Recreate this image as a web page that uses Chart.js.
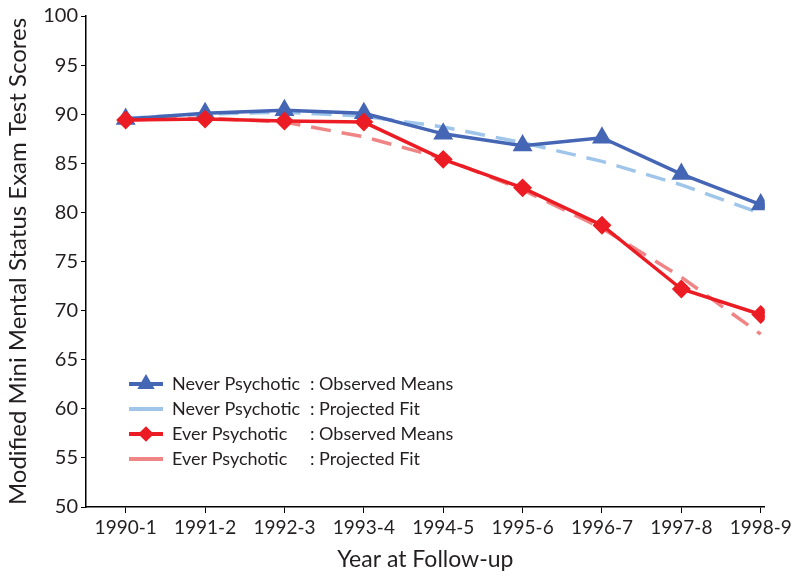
<!DOCTYPE html>
<html>
<head>
<meta charset="utf-8">
<script src="https://cdn.jsdelivr.net/npm/chart.js@4.4.1/dist/chart.umd.min.js"></script>
<style>
  html, body { margin: 0; padding: 0; background: #fff; }
  #wrap { width: 795px; height: 583px; }
</style>
</head>
<body>
<div id="wrap"><canvas id="LineChart"></canvas></div>
<script>
// follow-up waves
const years = ['1990-1', '1991-2', '1992-3', '1993-4', '1994-5', '1995-6', '1996-7', '1997-8', '1998-9'];

// MMSE scores
const neverObserved = [89.5, 90.1, 90.4, 90.1, 88.0, 86.8, 87.6, 83.9, 80.8];
const neverFit      = [89.6, 90.0, 90.2, 89.8, 88.7, 87.1, 85.2, 82.8, 79.9];
const everObserved  = [89.4, 89.5, 89.3, 89.2, 85.4, 82.5, 78.7, 72.2, 69.6];
const everFit       = [89.4, 89.6, 89.2, 87.7, 85.5, 82.3, 78.4, 73.4, 67.6];

const yTicks = [50, 55, 60, 65, 70, 75, 80, 85, 90, 95, 100];

const FONT = 'Lato';
const TEXT = '#231f20';
const toPoints = arr => arr.map((v, i) => ({x: i, y: v}));

// legend drawn inside the plot, bottom-left, with colon-aligned labels
const insideLegend = {
    id: 'insideLegend',
    afterDraw(chart) {
        const ctx = chart.ctx;
        const left = chart.chartArea.left;
        ctx.save();
        ctx.font = '18px ' + FONT;
        ctx.textBaseline = 'middle';
        chart.data.datasets.forEach((ds, i) => {
            const y = 384 + i * 25;
            ctx.strokeStyle = ds.borderColor;
            ctx.lineWidth = 4;
            ctx.setLineDash([]);
            ctx.beginPath();
            ctx.moveTo(left + 43, y);
            ctx.lineTo(left + 77, y);
            ctx.stroke();
            if (ds.pointStyle && ds.pointRadius > 0) {
                ctx.fillStyle = ds.borderColor;
                Chart.helpers.drawPoint(ctx, {
                    pointStyle: ds.pointStyle,
                    radius: ds.pointRadius - 2,
                    borderWidth: 1,
                    rotation: 0
                }, left + 60, y);
            }
            ctx.fillStyle = TEXT;
            const parts = ds.label.split(' : ');
            ctx.fillText(parts[0], left + 86, y);
            ctx.fillText(': ' + parts[1], left + 224, y);
        });
        ctx.restore();
    }
};

const ctx = document.getElementById('LineChart').getContext('2d');

new Chart(ctx, {
    type: 'line',
    data: {
        datasets: [{
            label: 'Never Psychotic : Observed Means',
            data: toPoints(neverObserved),
            borderColor: '#4566b5',
            backgroundColor: '#4566b5',
            borderWidth: 3.5,
            pointStyle: 'triangle',
            pointRadius: 8,
            order: 1
        }, {
            label: 'Never Psychotic : Projected Fit',
            data: toPoints(neverFit),
            borderColor: '#9fc5ea',
            borderWidth: 3.5,
            borderDash: [20, 11],
            pointRadius: 0,
            order: 3
        }, {
            label: 'Ever Psychotic : Observed Means',
            data: toPoints(everObserved),
            borderColor: '#ec1c24',
            backgroundColor: '#ec1c24',
            borderWidth: 3.5,
            pointStyle: 'rectRot',
            pointRadius: 7,
            order: 0
        }, {
            label: 'Ever Psychotic : Projected Fit',
            data: toPoints(everFit),
            borderColor: '#f08585',
            borderWidth: 3.5,
            borderDash: [20, 11],
            pointRadius: 0,
            order: 2
        }]
    },
    options: {
        responsive: true,
        maintainAspectRatio: false,
        animation: false,
        layout: {
            padding: {top: 16, right: 30, left: 0, bottom: 0}
        },
        scales: {
            x: {
                type: 'linear',
                min: -0.5,
                max: 8.05,
                afterBuildTicks: axis => {
                    axis.ticks = years.map((_, i) => ({value: i}));
                },
                afterFit: axis => { axis.height = 76; },
                border: {display: true, color: '#000', width: 1.5},
                grid: {
                    display: true,
                    drawOnChartArea: false,
                    drawTicks: true,
                    tickLength: 6,
                    color: '#000',
                    lineWidth: 1
                },
                ticks: {
                    autoSkip: false,
                    maxRotation: 0,
                    color: TEXT,
                    font: {family: FONT, size: 19},
                    padding: 3,
                    callback: v => years[v] || ''
                },
                title: {
                    display: true,
                    text: 'Year at Follow-up',
                    color: TEXT,
                    font: {family: FONT, size: 23},
                    padding: {top: 4, bottom: 10}
                }
            },
            y: {
                min: 50,
                max: 100,
                afterBuildTicks: axis => {
                    axis.ticks = yTicks.map(v => ({value: v}));
                },
                afterFit: axis => { axis.width = 86; },
                border: {display: true, color: '#000', width: 1.5},
                grid: {
                    display: true,
                    drawOnChartArea: false,
                    drawTicks: true,
                    tickLength: 5,
                    color: '#000',
                    lineWidth: 1
                },
                ticks: {
                    color: TEXT,
                    font: {family: FONT, size: 20},
                    padding: 3
                },
                title: {
                    display: true,
                    text: 'Modified Mini Mental Status Exam Test Scores',
                    color: TEXT,
                    font: {family: FONT, size: 24},
                    padding: {top: 4, bottom: 2}
                }
            }
        },
        plugins: {
            legend: {display: false},
            tooltip: {enabled: false}
        }
    },
    plugins: [insideLegend]
});
</script>
</body>
</html>
